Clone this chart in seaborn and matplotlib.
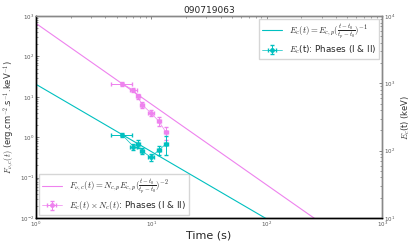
import numpy as np
import pandas as pd
import matplotlib
matplotlib.use("Agg")
import matplotlib.pyplot as plt
import seaborn as sns

sns.set_style("white")
plt.rcParams['font.family'] = ['DejaVu Sans']
plt.rcParams['mathtext.fontset'] = 'cm'

title = "090719063"
t_obs = [5.6, 7.0, 7.6, 8.3, 9.9, 11.6, 13.4]
t_err_lo = [1.1, 0.5, 0.3, 0.4, 0.6, 0.5, 0.6]
t_err_hi = [1.2, 0.5, 0.3, 0.4, 0.6, 0.5, 0.6]
F_obs = [21.0, 14.7, 10.3, 6.4, 4.0, 2.5, 1.32]
F_err = [2.0, 1.8, 1.5, 1.0, 0.7, 0.6, 0.45]
E_obs = [171, 115, 126, 99, 80, 102, 126]
E_err = [12, 12, 18, 10, 9, 15, 40]

t_p = 5.6
F_p = 21.0
E_p = 173.0
t_model = np.logspace(0, 3, 200)

model = pd.DataFrame({"t": t_model,
                      "F": F_p * (t_model / t_p) ** -2,
                      "E": E_p * (t_model / t_p) ** -1})

fig = plt.figure(figsize=(4.15, 2.49), dpi=100)
ax = fig.add_axes([0.0867, 0.1245, 0.834, 0.811])
ax2 = ax.twinx()

magenta = "violet"
cyan = "#00c0c0"

sns.lineplot(data=model, x="t", y="F", ax=ax, color=magenta, lw=0.8, legend=False)
ax.lines[-1].set_label(r"$F_{\nu,c}(t) = N_{c,p}E_{c,p}(\frac{t-t_0}{t_p-t_0})^{-2}$")
ax.errorbar(t_obs, F_obs, xerr=[t_err_lo, t_err_hi], yerr=F_err, fmt='-o',
            color=magenta, ms=2.5, lw=0.5, elinewidth=0.7, capsize=1.2,
            label=r"$E_c(t)\times N_c(t)$: Phases (I & II)")

sns.lineplot(data=model, x="t", y="E", ax=ax2, color=cyan, lw=0.8, legend=False)
ax2.lines[-1].set_label(r"$E_c(t) = E_{c,p}(\frac{t-t_0}{t_p-t_0})^{-1}$")
ax2.errorbar(t_obs, E_obs, xerr=[t_err_lo, t_err_hi], yerr=E_err, fmt='-o',
             color=cyan, ms=2.5, lw=0.5, elinewidth=0.7, capsize=1.2,
             label=r"$E_c$(t): Phases (I & II)")

ax.set_xscale("log")
ax.set_yscale("log")
ax2.set_yscale("log")
ax.set_xlim(1, 1000)
ax.set_ylim(1e-2, 1e3)
ax2.set_ylim(10, 1e4)

ax.set_title(title, fontsize=6.5, pad=2)
ax.set_xlabel("Time (s)", fontsize=8, labelpad=1)
ax.set_ylabel(r"$F_{\nu,c}(t)$ (erg.cm$^{-2}$.s$^{-1}$.keV$^{-1}$)", fontsize=6, labelpad=2, color="#333333")
ax2.set_ylabel(r"$E_c$(t) (keV)", fontsize=6, labelpad=3, color="#333333")

for a in (ax, ax2):
    a.tick_params(which="both", direction="in", labelsize=4, colors="#555555", pad=1.5)
    a.tick_params(which="major", length=2.5, width=0.5)
    a.tick_params(which="minor", length=1.2, width=0.4)
ax.tick_params(which="both", top=True)

for a in (ax, ax2):
    a.spines["top"].set_color("#888888")
    a.spines["right"].set_color("#888888")
    a.spines["left"].set_color("black")
    a.spines["bottom"].set_color("black")
    for s in a.spines.values():
        s.set_linewidth(1.0)

ax.legend(loc="lower left", fontsize=6.3, frameon=True, fancybox=False,
          edgecolor="#cccccc", borderpad=0.35, handlelength=2.3, labelspacing=0.35,
          borderaxespad=0.3)
ax2.legend(loc="upper right", fontsize=6.3, frameon=True, fancybox=False,
           edgecolor="#cccccc", borderpad=0.35, handlelength=2.3, labelspacing=0.35,
           borderaxespad=0.3)

fig.savefig("out.png", dpi=100)
